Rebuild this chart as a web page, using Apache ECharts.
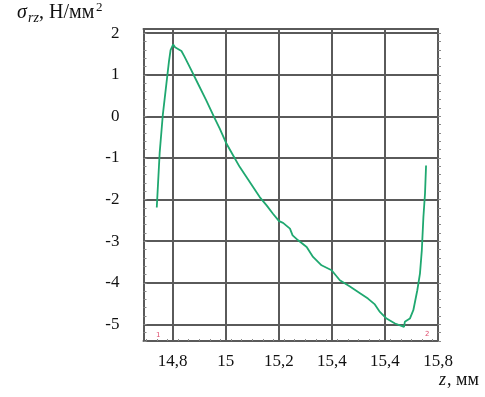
<!DOCTYPE html>
<html>
<head>
<meta charset="utf-8">
<script src="https://cdn.jsdelivr.net/npm/echarts@6/dist/echarts.min.js"></script>
<style>html,body{margin:0;padding:0;background:#fff;}#c{width:485px;height:397px;}</style>
</head>
<body>
<div id="c"></div>
<script>
var zValues = [14.740,14.751,14.763,14.776,14.786,14.792,14.802,14.809,14.820,14.833,14.845,14.864,14.895,14.927,14.958,14.977,15.003,15.028,15.053,15.078,15.103,15.128,15.154,15.178,15.201,15.216,15.242,15.252,15.273,15.305,15.329,15.361,15.399,15.430,15.468,15.506,15.536,15.562,15.581,15.606,15.638,15.672,15.675,15.694,15.707,15.722,15.732,15.739,15.745,15.751,15.755];
var sigmaValues = [-2.19,-0.87,0.05,0.77,1.32,1.59,1.73,1.66,1.62,1.57,1.43,1.19,0.79,0.38,-0.04,-0.29,-0.66,-0.94,-1.22,-1.46,-1.70,-1.94,-2.14,-2.34,-2.52,-2.56,-2.70,-2.86,-2.98,-3.14,-3.38,-3.58,-3.70,-3.94,-4.09,-4.25,-4.38,-4.52,-4.70,-4.86,-4.98,-5.06,-4.94,-4.86,-4.66,-4.18,-3.78,-3.22,-2.42,-1.86,-1.18];
var xTickValues = [14.8,15,15.2,15.4,15.6,15.8];
var xTickLabels = ['14,8','15','15,2','15,4','15,4','15,8'];
var yTickValues = [-5,-4,-3,-2,-1,0,1,2];
var yTickLabels = ['-5','-4','-3','-2','-1','0','1','2'];

var X_MIN = 14.69, X_MAX = 15.8, Y_MIN = -5.4, Y_MAX = 2.1;
var yMinor = [];
for (var i = 0; i <= 37; i++) { yMinor.push(Math.round((Y_MIN + i * 0.2) * 10) / 10); }
var xMinor = [];
for (var j = 0; j <= 27; j++) { xMinor.push(Math.round((14.7 + j * 0.04) * 100) / 100); }

function pick(vals, labels) {
  return function (v) {
    for (var k = 0; k < vals.length; k++) { if (Math.abs(vals[k] - v) < 1e-6) return labels[k]; }
    return '';
  };
}

var data = zValues.map(function (z, i) { return [z, sigmaValues[i]]; });
var gridCol = '#5a5a5a';
var font = 'Liberation Serif';

var chart = echarts.init(document.getElementById('c'), null, {renderer: 'canvas'});
chart.setOption({
  animation: false,
  backgroundColor: '#ffffff',
  grid: {left: 143.5, top: 29, right: 47, bottom: 56, containLabel: false},
  xAxis: [
    {type: 'value', min: X_MIN, max: X_MAX, position: 'bottom',
     axisLine: {show: true, onZero: false, lineStyle: {color: gridCol, width: 2}},
     axisTick: {show: false, customValues: xTickValues},
     axisLabel: {customValues: xTickValues, formatter: pick(xTickValues, xTickLabels), margin: 12, color: '#111', fontFamily: font, fontSize: 17},
     splitLine: {show: true, lineStyle: {color: gridCol, width: 2}}},
    {type: 'value', min: X_MIN, max: X_MAX, position: 'top',
     axisLine: {show: true, onZero: false, lineStyle: {color: gridCol, width: 2}},
     axisTick: {show: false}, axisLabel: {show: false}, splitLine: {show: false}},
    {type: 'value', min: X_MIN, max: X_MAX, position: 'bottom',
     axisLine: {show: false, onZero: false},
     axisTick: {show: true, inside: true, length: 2, customValues: xMinor, lineStyle: {color: '#888', width: 1}},
     axisLabel: {show: false}, splitLine: {show: false}}
  ],
  yAxis: [
    {type: 'value', min: Y_MIN, max: Y_MAX, position: 'left',
     axisLine: {show: true, onZero: false, lineStyle: {color: gridCol, width: 2}},
     axisTick: {show: false, customValues: yTickValues},
     axisLabel: {customValues: yTickValues, formatter: pick(yTickValues, yTickLabels), margin: 24, color: '#111', fontFamily: font, fontSize: 17},
     splitLine: {show: true, lineStyle: {color: gridCol, width: 2}}},
    {type: 'value', min: Y_MIN, max: Y_MAX, position: 'left',
     axisLine: {show: false, onZero: false},
     axisTick: {show: true, inside: true, length: 3, customValues: yMinor, lineStyle: {color: '#888', width: 1}},
     axisLabel: {show: false}, splitLine: {show: false}},
    {type: 'value', min: Y_MIN, max: Y_MAX, position: 'right',
     axisLine: {show: true, onZero: false, lineStyle: {color: gridCol, width: 2}},
     axisTick: {show: true, inside: false, length: 3, customValues: yMinor, lineStyle: {color: '#888', width: 1}},
     axisLabel: {show: false}, splitLine: {show: false}}
  ],
  graphic: [
    {type: 'text', left: 17, top: 3, style: {text: 'σ', font: 'italic 20px "Liberation Serif"', fill: '#111'}},
    {type: 'text', left: 28, top: 11, style: {text: 'rz', font: 'italic 14px "Liberation Serif"', fill: '#111'}},
    {type: 'text', left: 39, top: 3, style: {text: ', Н/мм', font: '20px "Liberation Serif"', fill: '#111'}},
    {type: 'text', left: 96, top: 1, style: {text: '2', font: '13px "Liberation Serif"', fill: '#111'}},
    {type: 'text', left: 439, top: 371, style: {text: 'z', font: 'italic 18px "Liberation Serif"', fill: '#111'}},
    {type: 'text', left: 447, top: 371, style: {text: ', мм', font: '18px "Liberation Serif"', fill: '#111'}},
    {type: 'text', left: 156, top: 332, style: {text: '1', font: '7px "DejaVu Sans"', fill: '#e05070'}},
    {type: 'text', left: 425, top: 331, style: {text: '2', font: '7px "DejaVu Sans"', fill: '#e05070'}}
  ],
  series: [{
    type: 'line', xAxisIndex: 0, yAxisIndex: 0, data: data,
    showSymbol: false, symbol: 'none', smooth: false, z: 5,
    lineStyle: {color: '#1fa870', width: 1.8}
  }]
});
</script>
</body>
</html>
